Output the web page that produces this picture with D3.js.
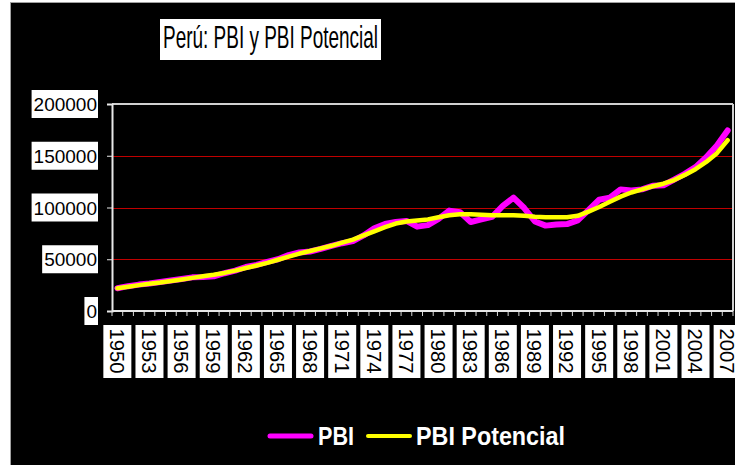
<!DOCTYPE html>
<html>
<head>
<meta charset="utf-8">
<script src="https://cdn.jsdelivr.net/npm/d3@7"></script>
<style>
  html, body { margin: 0; padding: 0; background: #ffffff; }
  svg { display: block; }
  text { font-family: "Liberation Sans", Arial, sans-serif; }
</style>
</head>
<body>
<svg id="chart" width="735" height="465"></svg>
<script>
// ---- Data ----
const years = d3.range(1950, 2008);
const labelYears = [1950,1953,1956,1959,1962,1965,1968,1971,1974,1977,1980,1983,1986,1989,1992,1995,1998,2001,2004,2007];
const yTicks = [0, 50000, 100000, 150000, 200000];
const pbi = [
  22000, 24000, 25500, 26500, 28000, 29500, 31000, 32500, 32800, 33500,
  36500, 39000, 42500, 44500, 47500, 50000, 54000, 56500, 57500, 60000,
  63000, 65500, 67500, 73000, 80000, 84000, 86000, 87000, 81500, 83000,
  89000, 97000, 95500, 86000, 88500, 91000, 101500, 109500, 99500, 86500,
  82500, 83500, 84000, 87500, 97500, 107500, 109500, 117500, 116500, 117500,
  121000, 121500, 127000, 132500, 139000, 148500, 160000, 174500
];
const potencial = [
  22000, 23500, 25000, 26300, 27500, 29000, 30500, 32000, 33500, 35000,
  36800, 39000, 41500, 44000, 46500, 49500, 52500, 55500, 58000, 60500,
  63000, 66000, 69000, 73000, 77000, 81000, 84500, 86500, 87500, 88500,
  90500, 92500, 93500, 93500, 93000, 92500, 92500, 92500, 92000, 91000,
  90500, 90500, 90500, 92000, 96000, 100500, 105500, 110500, 114500, 117500,
  120500, 123000, 126500, 131500, 137000, 144000, 152500, 165000
];
const seriesNames = ["PBI", "PBI Potencial"];
const seriesColors = ["#ff00ff", "#ffff00"];
const title = "Perú: PBI y PBI Potencial";

// ---- Layout ----
const svg = d3.select("#chart");
const L = 112, R = 733, T = 104, B = 311;

svg.append("rect").attr("x", 0).attr("y", 0).attr("width", 735).attr("height", 465).attr("fill", "#ffffff");
svg.append("rect").attr("x", 10.5).attr("y", 2.5).attr("width", 740).attr("height", 470)
  .attr("fill", "#000000").attr("stroke", "#a0a0a0").attr("stroke-width", 1);

const x = d3.scaleBand().domain(years).range([L, R]).padding(0);
const y = d3.scaleLinear().domain([0, 200000]).range([B, T]);
const cx = d => x(d) + x.bandwidth() / 2;

// Title
svg.append("rect").attr("x", 160).attr("y", 19).attr("width", 221).attr("height", 41).attr("fill", "#ffffff");
svg.append("text").attr("x", 163).attr("y", 48).attr("font-size", 32).attr("fill", "#000")
  .attr("textLength", 215).attr("lengthAdjust", "spacingAndGlyphs").text(title);

// Gridlines
svg.append("g").selectAll("line").data(yTicks.filter(v => v > 0 && v < 200000)).join("line")
  .attr("x1", L).attr("x2", R).attr("y1", d => Math.round(y(d)) + 0.5).attr("y2", d => Math.round(y(d)) + 0.5)
  .attr("stroke", "#c00000").attr("stroke-width", 1);

// Plot border top & right
svg.append("line").attr("x1", L).attr("x2", R).attr("y1", T).attr("y2", T).attr("stroke", "#d0d0d0").attr("stroke-width", 2);
svg.append("line").attr("x1", R).attr("x2", R).attr("y1", T).attr("y2", B).attr("stroke", "#d0d0d0").attr("stroke-width", 2);

// Y axis
const yAxis = d3.axisLeft(y).tickValues(yTicks).tickSize(5).tickFormat(d3.format("d"));
const gy = svg.append("g").attr("transform", `translate(${L},0)`).call(yAxis);
gy.select(".domain").attr("stroke", "#e8e8e8").attr("stroke-width", 2);
gy.selectAll(".tick line").attr("stroke", "#e8e8e8");
gy.selectAll(".tick text").remove();
const yl = svg.append("g");
yTicks.forEach(v => {
  const g = yl.append("g");
  const t = g.append("text").attr("x", 97).attr("y", y(v) + 7).attr("text-anchor", "end")
    .attr("font-size", 19).attr("fill", "#000").text(d3.format("d")(v));
  const bb = t.node().getBBox();
  g.insert("rect", "text").attr("x", bb.x - 2).attr("y", y(v) - 14).attr("width", bb.width + 3).attr("height", 28).attr("fill", "#fff");
});

// X axis
const gx = svg.append("g").attr("transform", `translate(0,${B})`);
gx.selectAll("line.tk").data(d3.range(years.length + 1)).join("line").attr("class", "tk")
  .attr("x1", i => L + i * x.bandwidth()).attr("x2", i => L + i * x.bandwidth())
  .attr("y1", 0).attr("y2", 5).attr("stroke", "#d8d8d8").attr("stroke-width", 1);
gx.append("line").attr("x1", L).attr("x2", R).attr("y1", 0).attr("y2", 0).attr("stroke", "#e8e8e8").attr("stroke-width", 2);

const xl = svg.append("g");
labelYears.forEach(yr => {
  const c = cx(yr);
  xl.append("rect").attr("x", c - 14).attr("y", 325).attr("width", 28).attr("height", 53).attr("fill", "#fff");
  xl.append("text").attr("transform", `translate(${c},351) rotate(90)`).attr("text-anchor", "middle")
    .attr("dy", "0.36em").attr("font-size", 21).attr("fill", "#000")
    .attr("textLength", 45).attr("lengthAdjust", "spacingAndGlyphs").text(yr);
});

// Lines
const line = d3.line().x((d, i) => cx(years[i])).y(d => y(d));
svg.append("path").datum(pbi).attr("d", line).attr("fill", "none").attr("stroke", seriesColors[0])
  .attr("stroke-width", 6).attr("stroke-linejoin", "round").attr("stroke-linecap", "round");
svg.append("path").datum(potencial).attr("d", line).attr("fill", "none").attr("stroke", seriesColors[1])
  .attr("stroke-width", 4.5).attr("stroke-linejoin", "round").attr("stroke-linecap", "round");

// Legend
const lg = svg.append("g");
lg.append("line").attr("x1", 270).attr("x2", 311).attr("y1", 436).attr("y2", 436)
  .attr("stroke", seriesColors[0]).attr("stroke-width", 5).attr("stroke-linecap", "round");
lg.append("text").attr("x", 318).attr("y", 445).attr("font-size", 25).attr("font-weight", "bold").attr("fill", "#fff")
  .attr("textLength", 36).attr("lengthAdjust", "spacingAndGlyphs").text(seriesNames[0]);
lg.append("line").attr("x1", 368).attr("x2", 410).attr("y1", 436).attr("y2", 436)
  .attr("stroke", seriesColors[1]).attr("stroke-width", 4).attr("stroke-linecap", "round");
lg.append("text").attr("x", 416).attr("y", 445).attr("font-size", 25).attr("font-weight", "bold").attr("fill", "#fff")
  .attr("textLength", 149).attr("lengthAdjust", "spacingAndGlyphs").text(seriesNames[1]);
</script>
</body>
</html>
